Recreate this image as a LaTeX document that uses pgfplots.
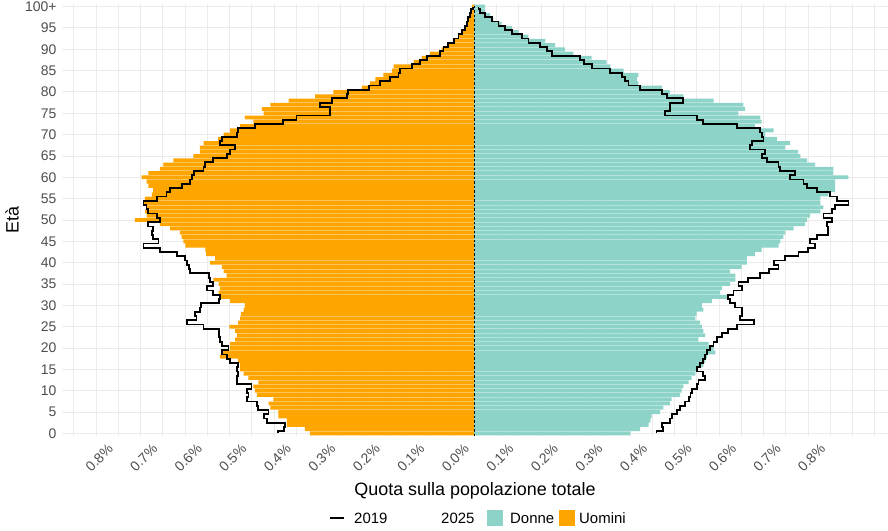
\documentclass[border=0pt]{standalone}
\usepackage{fontspec}
\setmainfont{Liberation Sans}
\usepackage{pgfplots}
\usepackage{pgfplotstable}
\pgfplotsset{compat=1.18}
\definecolor{donne}{HTML}{8DD3C7}
\definecolor{uomini}{HTML}{FFA500}
\definecolor{tickgray}{HTML}{4D4D4D}
\definecolor{gridgray}{HTML}{EBEBEB}

\pgfplotstableread{
age m25 f25
0 -0.369 0.351
1 -0.380 0.373
2 -0.421 0.392
3 -0.421 0.396
4 -0.440 0.399
5 -0.440 0.418
6 -0.458 0.425
7 -0.462 0.440
8 -0.451 0.444
9 -0.488 0.463
10 -0.492 0.466
11 -0.496 0.470
12 -0.485 0.482
13 -0.507 0.489
14 -0.518 0.497
15 -0.526 0.500
16 -0.526 0.515
17 -0.530 0.519
18 -0.571 0.523
19 -0.567 0.542
20 -0.548 0.538
21 -0.548 0.527
22 -0.537 0.504
23 -0.533 0.519
24 -0.537 0.515
25 -0.550 0.512
26 -0.530 0.508
27 -0.526 0.497
28 -0.524 0.500
29 -0.518 0.515
30 -0.515 0.512
31 -0.548 0.534
32 -0.571 0.568
33 -0.574 0.553
34 -0.571 0.557
35 -0.574 0.575
36 -0.586 0.587
37 -0.556 0.587
38 -0.563 0.575
39 -0.567 0.601
40 -0.593 0.613
41 -0.582 0.613
42 -0.602 0.631
43 -0.604 0.646
44 -0.649 0.684
45 -0.653 0.688
46 -0.657 0.695
47 -0.661 0.699
48 -0.683 0.718
49 -0.706 0.744
50 -0.762 0.748
51 -0.736 0.755
52 -0.739 0.778
53 -0.736 0.785
54 -0.743 0.778
55 -0.740 0.778
56 -0.724 0.796
57 -0.721 0.811
58 -0.732 0.811
59 -0.736 0.811
60 -0.747 0.841
61 -0.732 0.807
62 -0.706 0.807
63 -0.698 0.766
64 -0.676 0.748
65 -0.631 0.733
66 -0.616 0.728
67 -0.616 0.698
68 -0.608 0.710
69 -0.575 0.680
70 -0.563 0.654
71 -0.548 0.673
72 -0.526 0.631
73 -0.496 0.646
74 -0.515 0.643
75 -0.473 0.594
76 -0.477 0.609
77 -0.458 0.605
78 -0.417 0.538
79 -0.357 0.470
80 -0.316 0.440
81 -0.252 0.422
82 -0.234 0.369
83 -0.222 0.366
84 -0.204 0.369
85 -0.185 0.336
86 -0.181 0.306
87 -0.136 0.298
88 -0.118 0.264
89 -0.099 0.223
90 -0.073 0.204
91 -0.058 0.182
92 -0.046 0.160
93 -0.035 0.122
94 -0.028 0.100
95 -0.020 0.085
96 -0.015 0.062
97 -0.011 0.043
98 -0.009 0.036
99 -0.007 0.025
100 -0.005 0.025
}\pyr

% 2019 step outline: each age level spans age-0.5 .. age+0.5
\pgfplotstableread{
y m f
0 -0.440 0.410
0.5 -0.440 0.410
0.5 -0.428 0.425
1.5 -0.428 0.425
1.5 -0.425 0.423
2.5 -0.425 0.423
2.5 -0.466 0.440
3.5 -0.466 0.440
3.5 -0.473 0.444
4.5 -0.473 0.444
4.5 -0.462 0.455
5.5 -0.462 0.455
5.5 -0.485 0.463
6.5 -0.485 0.463
6.5 -0.488 0.474
7.5 -0.488 0.474
7.5 -0.511 0.482
8.5 -0.511 0.482
8.5 -0.507 0.486
9.5 -0.507 0.486
9.5 -0.511 0.489
10.5 -0.511 0.489
10.5 -0.500 0.500
11.5 -0.500 0.500
11.5 -0.533 0.504
12.5 -0.533 0.504
12.5 -0.533 0.519
13.5 -0.533 0.519
13.5 -0.530 0.515
14.5 -0.530 0.515
14.5 -0.533 0.500
15.5 -0.533 0.500
15.5 -0.530 0.508
16.5 -0.530 0.508
16.5 -0.548 0.515
17.5 -0.548 0.515
17.5 -0.555 0.519
18.5 -0.555 0.519
18.5 -0.567 0.523
19.5 -0.567 0.523
19.5 -0.552 0.530
20.5 -0.552 0.530
20.5 -0.567 0.538
21.5 -0.567 0.538
21.5 -0.571 0.545
22.5 -0.571 0.545
22.5 -0.574 0.557
23.5 -0.574 0.557
23.5 -0.574 0.571
24.5 -0.574 0.571
24.5 -0.608 0.590
25.5 -0.608 0.590
25.5 -0.646 0.628
26.5 -0.646 0.628
26.5 -0.624 0.598
27.5 -0.624 0.598
27.5 -0.627 0.602
28.5 -0.627 0.602
28.5 -0.616 0.602
29.5 -0.616 0.602
29.5 -0.613 0.587
30.5 -0.613 0.587
30.5 -0.574 0.575
31.5 -0.574 0.575
31.5 -0.571 0.571
32.5 -0.571 0.571
32.5 -0.586 0.583
33.5 -0.586 0.583
33.5 -0.601 0.602
34.5 -0.601 0.602
34.5 -0.586 0.594
35.5 -0.586 0.594
35.5 -0.593 0.616
36.5 -0.593 0.616
36.5 -0.596 0.643
37.5 -0.596 0.643
37.5 -0.638 0.662
38.5 -0.638 0.662
38.5 -0.641 0.684
39.5 -0.641 0.684
39.5 -0.646 0.674
40.5 -0.646 0.674
40.5 -0.649 0.699
41.5 -0.649 0.699
41.5 -0.668 0.729
42.5 -0.668 0.729
42.5 -0.706 0.751
43.5 -0.706 0.751
43.5 -0.743 0.766
44.5 -0.743 0.766
44.5 -0.709 0.755
45.5 -0.709 0.755
45.5 -0.721 0.770
46.5 -0.721 0.770
46.5 -0.724 0.796
47.5 -0.724 0.796
47.5 -0.721 0.796
48.5 -0.721 0.796
48.5 -0.732 0.792
49.5 -0.732 0.792
49.5 -0.706 0.804
50.5 -0.706 0.804
50.5 -0.713 0.785
51.5 -0.713 0.785
51.5 -0.732 0.804
52.5 -0.732 0.804
52.5 -0.736 0.811
53.5 -0.736 0.811
53.5 -0.743 0.841
54.5 -0.743 0.841
54.5 -0.713 0.815
55.5 -0.713 0.815
55.5 -0.691 0.800
56.5 -0.691 0.800
56.5 -0.683 0.770
57.5 -0.683 0.770
57.5 -0.657 0.748
58.5 -0.657 0.748
58.5 -0.638 0.740
59.5 -0.638 0.740
59.5 -0.634 0.710
60.5 -0.634 0.710
60.5 -0.630 0.721
61.5 -0.630 0.721
61.5 -0.608 0.688
62.5 -0.608 0.688
62.5 -0.604 0.684
63.5 -0.604 0.684
63.5 -0.586 0.658
64.5 -0.586 0.658
64.5 -0.556 0.646
65.5 -0.556 0.646
65.5 -0.548 0.654
66.5 -0.548 0.654
66.5 -0.537 0.620
67.5 -0.537 0.620
67.5 -0.571 0.624
68.5 -0.571 0.624
68.5 -0.567 0.650
69.5 -0.567 0.650
69.5 -0.533 0.646
70.5 -0.533 0.646
70.5 -0.530 0.643
71.5 -0.530 0.643
71.5 -0.492 0.590
72.5 -0.492 0.590
72.5 -0.429 0.515
73.5 -0.429 0.515
73.5 -0.399 0.500
74.5 -0.399 0.500
74.5 -0.324 0.429
75.5 -0.324 0.429
75.5 -0.324 0.440
76.5 -0.324 0.440
76.5 -0.346 0.440
77.5 -0.346 0.440
77.5 -0.320 0.470
78.5 -0.320 0.470
78.5 -0.286 0.434
79.5 -0.286 0.434
79.5 -0.283 0.422
80.5 -0.283 0.422
80.5 -0.237 0.373
81.5 -0.237 0.373
81.5 -0.211 0.347
82.5 -0.211 0.347
82.5 -0.189 0.339
83.5 -0.189 0.339
83.5 -0.170 0.332
84.5 -0.170 0.332
84.5 -0.166 0.306
85.5 -0.166 0.306
85.5 -0.140 0.264
86.5 -0.140 0.264
86.5 -0.121 0.246
87.5 -0.121 0.246
87.5 -0.106 0.238
88.5 -0.106 0.238
88.5 -0.076 0.175
89.5 -0.076 0.175
89.5 -0.069 0.163
90.5 -0.069 0.163
90.5 -0.058 0.148
91.5 -0.058 0.148
91.5 -0.046 0.122
92.5 -0.046 0.122
92.5 -0.035 0.107
93.5 -0.035 0.107
93.5 -0.028 0.085
94.5 -0.028 0.085
94.5 -0.020 0.070
95.5 -0.020 0.070
95.5 -0.016 0.055
96.5 -0.016 0.055
96.5 -0.013 0.040
97.5 -0.013 0.040
97.5 -0.009 0.025
98.5 -0.009 0.025
98.5 -0.007 0.013
99.5 -0.007 0.013
99.5 -0.003 0.010
100 -0.003 0.010
}\steps

\begin{document}
\begin{tikzpicture}
\begin{axis}[
  at={(0,0)}, anchor=south west,
  scale only axis, width=826bp, height=432bp,
  xmin=-0.926, xmax=0.930, ymin=-0.6, ymax=100.6,
  axis line style={draw=none},
  tick style={draw=none},
  xtick={-0.8,-0.7,-0.6,-0.5,-0.4,-0.3,-0.2,-0.1,0,0.1,0.2,0.3,0.4,0.5,0.6,0.7,0.8},
  xticklabels={0.8\%,0.7\%,0.6\%,0.5\%,0.4\%,0.3\%,0.2\%,0.1\%,0.0\%,0.1\%,0.2\%,0.3\%,0.4\%,0.5\%,0.6\%,0.7\%,0.8\%},
  minor xtick={-0.9,-0.85,-0.75,-0.65,-0.55,-0.45,-0.35,-0.25,-0.15,-0.05,0.05,0.15,0.25,0.35,0.45,0.55,0.65,0.75,0.85,0.9},
  ytick={0,5,10,15,20,25,30,35,40,45,50,55,60,65,70,75,80,85,90,95,100},
  yticklabels={0,5,10,15,20,25,30,35,40,45,50,55,60,65,70,75,80,85,90,95,100+},
  grid=both,
  major grid style={draw=gridgray, line width=0.9bp},
  minor grid style={draw=gridgray, line width=0.45bp},
  /pgf/number format/assume math mode=true,
  ticklabel style={font=\fontsize{14}{16}\selectfont, text=tickgray},
  xticklabel style={xshift=-11bp, yshift=-2bp, rotate=45, anchor=north east},
  yticklabel style={xshift=-2bp},
  xlabel={Quota sulla popolazione totale},
  ylabel={Età},
  every axis x label/.style={at={(axis description cs:0.5,0)}, anchor=center, yshift=-55bp, font=\fontsize{18}{20}\selectfont},
  every axis y label/.style={at={(axis description cs:0,0.5)}, xshift=-50bp, rotate=90, anchor=center, font=\fontsize{18}{20}\selectfont},
]
\addplot[xbar, bar width=0.9, bar shift=0pt, fill=uomini, draw=none] table[x=m25, y=age] {\pyr};
\addplot[xbar, bar width=0.9, bar shift=0pt, fill=donne, draw=none] table[x=f25, y=age] {\pyr};
\addplot[black, mark=none, line width=0.5bp, dash pattern=on 2.5bp off 2bp] coordinates {(0,-0.6) (0,100.6)};
\addplot[black, mark=none, line width=1.8bp] table[x=m, y=y] {\steps};
\addplot[black, mark=none, line width=1.8bp] table[x=f, y=y] {\steps};
\end{axis}
% legend
\draw[black, line width=1.8bp] (268bp,-82bp) -- (282bp,-82bp);
\node[anchor=west, inner sep=0pt, font=\fontsize{15}{17}\selectfont] at (292bp,-82bp) {2019};
\node[anchor=west, inner sep=0pt, font=\fontsize{15}{17}\selectfont] at (379bp,-82bp) {2025};
\fill[donne] (425bp,-90bp) rectangle (441bp,-74bp);
\node[anchor=west, inner sep=0pt, font=\fontsize{15}{17}\selectfont] at (448bp,-82bp) {Donne};
\fill[uomini] (497bp,-90bp) rectangle (513bp,-74bp);
\node[anchor=west, inner sep=0pt, font=\fontsize{15}{17}\selectfont] at (517bp,-82bp) {Uomini};
\pgfresetboundingbox
\path[use as bounding box] (-62bp,-95bp) rectangle (826bp,436bp);
\end{tikzpicture}
\end{document}
